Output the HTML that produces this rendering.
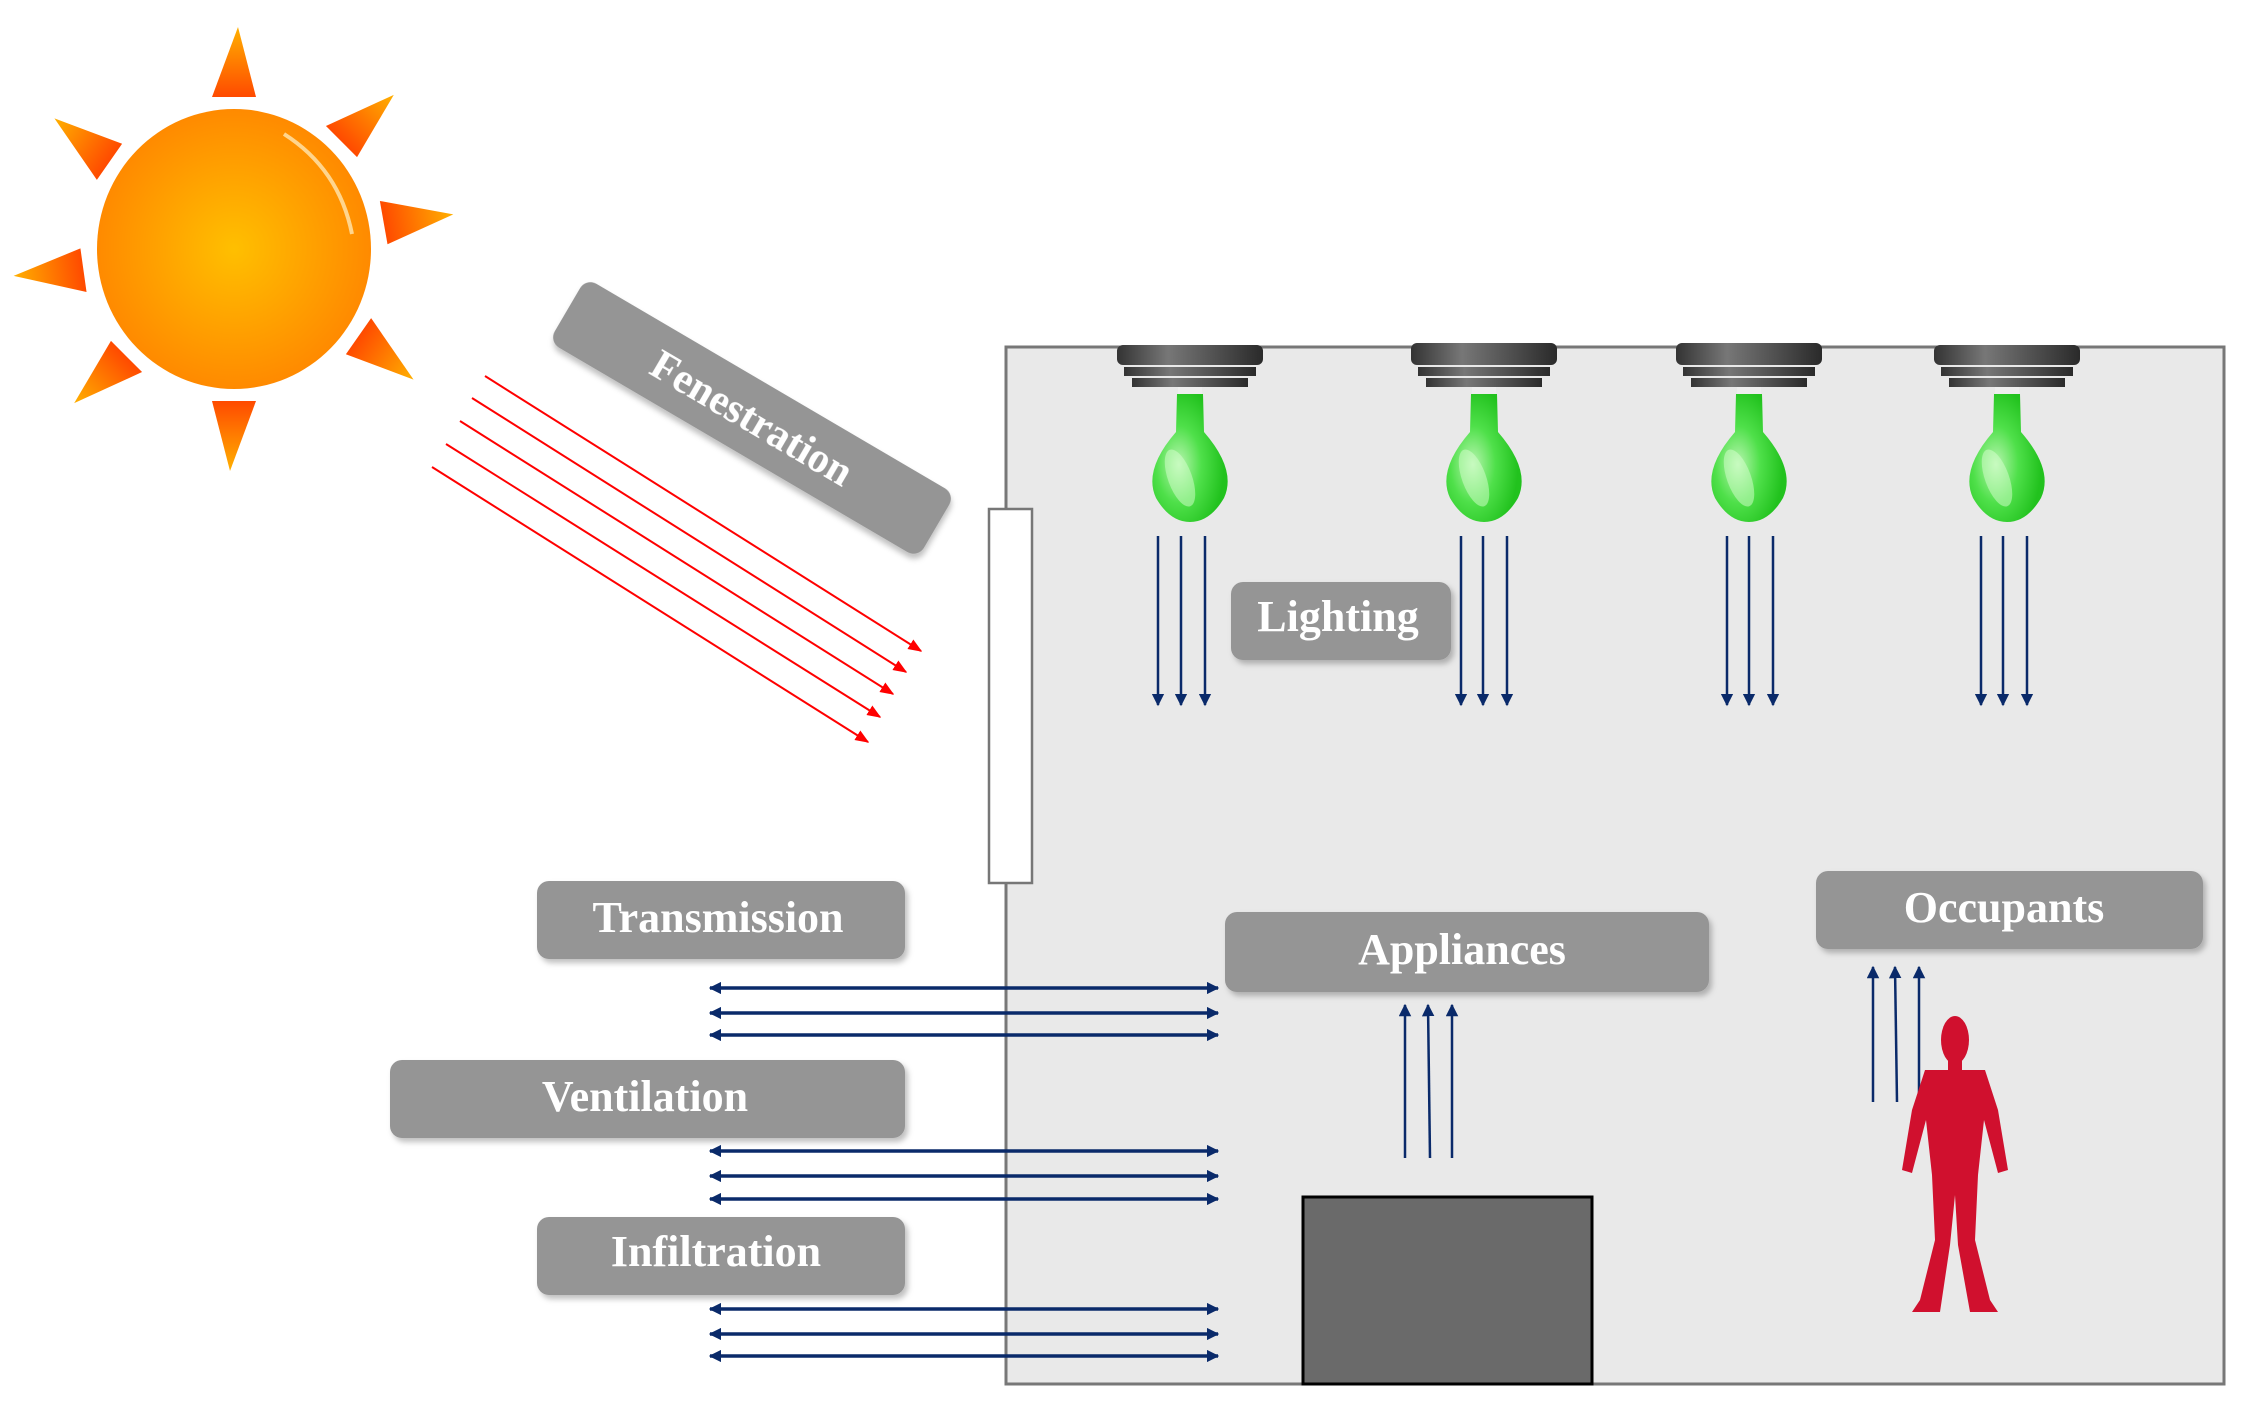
<!DOCTYPE html>
<html><head><meta charset="utf-8"><style>
html,body{margin:0;padding:0;background:#fff;}
svg{display:block;}
text{font-family:"Liberation Serif",serif;fill:#fff;}
</style></head><body>
<svg width="2242" height="1417" viewBox="0 0 2242 1417" xmlns="http://www.w3.org/2000/svg">
<defs>
<radialGradient id="sun" cx="0.5" cy="0.5" r="0.5">
<stop offset="0" stop-color="#ffbf00"/><stop offset="1" stop-color="#ff8a00"/></radialGradient>
<linearGradient id="ray" x1="0" y1="0" x2="0" y2="1">
<stop offset="0" stop-color="#ffb000"/><stop offset="1" stop-color="#ff4a00"/></linearGradient>
<linearGradient id="fix" x1="0" y1="0" x2="1" y2="0">
<stop offset="0" stop-color="#333"/><stop offset="0.35" stop-color="#777"/><stop offset="1" stop-color="#2a2a2a"/></linearGradient>
<radialGradient id="bulb" cx="0.35" cy="0.55" r="0.6">
<stop offset="0" stop-color="#b8f5b0"/><stop offset="0.5" stop-color="#4fe04a"/><stop offset="1" stop-color="#22c21e"/></radialGradient>
<filter id="sh" x="-10%" y="-10%" width="130%" height="140%"><feDropShadow dx="3" dy="4" stdDeviation="3" flood-color="#000" flood-opacity="0.25"/></filter>
<marker id="ad" viewBox="0 0 10 10" refX="9" refY="5" markerWidth="5" markerHeight="5" orient="auto"><path d="M0,0 L10,5 L0,10 z" fill="#0a2a6a"/></marker>
<marker id="ah" viewBox="0 0 10 10" refX="9" refY="5" markerWidth="3.5" markerHeight="3.5" orient="auto-start-reverse"><path d="M0,0 L10,5 L0,10 z" fill="#0a2a6a"/></marker>
<marker id="ar" viewBox="0 0 10 10" refX="9" refY="5" markerWidth="7" markerHeight="7" orient="auto"><path d="M0,1 L10,5 L0,9 z" fill="#f00"/></marker>
</defs>

<!-- Sun -->
<g transform="translate(234,249)">
<g fill="url(#ray)">
<polygon points="-22,-152 22,-152 4,-222"/>
<polygon points="-22,-152 22,-152 4,-222" transform="rotate(45)"/>
<polygon points="-22,-152 22,-152 4,-222" transform="rotate(80)"/>
<polygon points="-22,-152 22,-152 4,-222" transform="rotate(125)"/>
<polygon points="-22,-152 22,-152 4,-222" transform="rotate(180)"/>
<polygon points="-22,-152 22,-152 4,-222" transform="rotate(225)"/>
<polygon points="-22,-152 22,-152 4,-222" transform="rotate(262)"/>
<polygon points="-22,-152 22,-152 4,-222" transform="rotate(305)"/>
</g>
<circle r="148" fill="#fff"/>
<ellipse rx="137" ry="140" fill="url(#sun)"/>
<path d="M50,-115 Q105,-80 118,-15" stroke="#ffe6b0" stroke-width="4" fill="none" opacity="0.8"/>
</g>

<!-- Fenestration -->
<g transform="translate(752,418) rotate(30.4)" filter="url(#sh)">
<rect x="-214" y="-37" width="428" height="74" rx="12" fill="#959595"/>
<text x="0" y="14" font-size="42" text-anchor="middle" font-weight="bold">Fenestration</text>
</g>

<!-- Red rays -->
<g stroke="#f00" stroke-width="2" marker-end="url(#ar)">
<line x1="485" y1="376" x2="921" y2="651"/>
<line x1="472" y1="398" x2="906" y2="672"/>
<line x1="460" y1="421" x2="893" y2="694"/>
<line x1="446" y1="444" x2="880" y2="717"/>
<line x1="432" y1="467" x2="868" y2="742"/>
</g>

<!-- Room -->
<rect x="1006" y="347" width="1218" height="1037" fill="#e9e9e9" stroke="#777" stroke-width="3"/>
<rect x="989" y="509" width="43" height="374" fill="#fff" stroke="#777" stroke-width="2.5"/>

<!-- Lamps -->
<g id="lamp">
</g>
<g>
<g transform="translate(1190,0)">
<rect x="-73" y="345" width="146" height="20" rx="6" fill="url(#fix)"/><rect x="-66" y="367" width="132" height="9" fill="url(#fix)"/><rect x="-58" y="378" width="116" height="9" fill="url(#fix)"/>
<rect x="-12" y="387" width="24" height="7" fill="#eee"/>
<path d="M-13,394 L13,394 L14,432 Q47,470 34,498 Q20,522 0,522 Q-20,522 -34,498 Q-47,470 -14,432 Z" fill="url(#bulb)"/>
<ellipse cx="-10" cy="478" rx="12" ry="30" fill="#d8ffd0" opacity="0.5" transform="rotate(-20 -10 478)"/>
</g>
<g transform="translate(1484,0)">
<rect x="-73" y="343" width="146" height="22" rx="6" fill="url(#fix)"/><rect x="-66" y="367" width="132" height="9" fill="url(#fix)"/><rect x="-58" y="378" width="116" height="9" fill="url(#fix)"/>
<rect x="-12" y="387" width="24" height="7" fill="#eee"/>
<path d="M-13,394 L13,394 L14,432 Q47,470 34,498 Q20,522 0,522 Q-20,522 -34,498 Q-47,470 -14,432 Z" fill="url(#bulb)"/>
<ellipse cx="-10" cy="478" rx="12" ry="30" fill="#d8ffd0" opacity="0.5" transform="rotate(-20 -10 478)"/>
</g>
<g transform="translate(1749,0)">
<rect x="-73" y="343" width="146" height="22" rx="6" fill="url(#fix)"/><rect x="-66" y="367" width="132" height="9" fill="url(#fix)"/><rect x="-58" y="378" width="116" height="9" fill="url(#fix)"/>
<rect x="-12" y="387" width="24" height="7" fill="#eee"/>
<path d="M-13,394 L13,394 L14,432 Q47,470 34,498 Q20,522 0,522 Q-20,522 -34,498 Q-47,470 -14,432 Z" fill="url(#bulb)"/>
<ellipse cx="-10" cy="478" rx="12" ry="30" fill="#d8ffd0" opacity="0.5" transform="rotate(-20 -10 478)"/>
</g>
<g transform="translate(2007,0)">
<rect x="-73" y="345" width="146" height="20" rx="6" fill="url(#fix)"/><rect x="-66" y="367" width="132" height="9" fill="url(#fix)"/><rect x="-58" y="378" width="116" height="9" fill="url(#fix)"/>
<rect x="-12" y="387" width="24" height="7" fill="#eee"/>
<path d="M-13,394 L13,394 L14,432 Q47,470 34,498 Q20,522 0,522 Q-20,522 -34,498 Q-47,470 -14,432 Z" fill="url(#bulb)"/>
<ellipse cx="-10" cy="478" rx="12" ry="30" fill="#d8ffd0" opacity="0.5" transform="rotate(-20 -10 478)"/>
</g>
</g>

<!-- Down arrows -->
<g stroke="#0a2a6a" stroke-width="2.5" marker-end="url(#ad)">
<line x1="1158" y1="536" x2="1158" y2="705"/><line x1="1181" y1="536" x2="1181" y2="705"/><line x1="1205" y1="536" x2="1205" y2="705"/>
<line x1="1461" y1="536" x2="1461" y2="705"/><line x1="1483" y1="536" x2="1483" y2="705"/><line x1="1507" y1="536" x2="1507" y2="705"/>
<line x1="1727" y1="536" x2="1727" y2="705"/><line x1="1749" y1="536" x2="1749" y2="705"/><line x1="1773" y1="536" x2="1773" y2="705"/>
<line x1="1981" y1="536" x2="1981" y2="705"/><line x1="2003" y1="536" x2="2003" y2="705"/><line x1="2027" y1="536" x2="2027" y2="705"/>
</g>

<!-- Labels -->
<g filter="url(#sh)" fill="#959595">
<rect x="1231" y="582" width="220" height="78" rx="12"/>
<rect x="537" y="881" width="368" height="78" rx="12"/>
<rect x="1225" y="912" width="484" height="80" rx="12"/>
<rect x="1816" y="871" width="387" height="78" rx="12"/>
<rect x="390" y="1060" width="515" height="78" rx="12"/>
<rect x="537" y="1217" width="368" height="78" rx="12"/>
</g>
<g font-size="44" font-weight="bold" text-anchor="middle">
<text x="1338" y="631">Lighting</text>
<text x="718" y="932">Transmission</text>
<text x="1462" y="964">Appliances</text>
<text x="2004" y="922">Occupants</text>
<text x="645" y="1111">Ventilation</text>
<text x="716" y="1266">Infiltration</text>
</g>

<!-- Horizontal double arrows -->
<g stroke="#0a2a6a" stroke-width="3.5" marker-start="url(#ah)" marker-end="url(#ah)">
<line x1="710" y1="988" x2="1218" y2="988"/><line x1="710" y1="1013" x2="1218" y2="1013"/><line x1="710" y1="1035" x2="1218" y2="1035"/>
<line x1="710" y1="1151" x2="1218" y2="1151"/><line x1="710" y1="1176" x2="1218" y2="1176"/><line x1="710" y1="1199" x2="1218" y2="1199"/>
<line x1="710" y1="1309" x2="1218" y2="1309"/><line x1="710" y1="1334" x2="1218" y2="1334"/><line x1="710" y1="1356" x2="1218" y2="1356"/>
</g>

<!-- Up arrows -->
<g stroke="#0a2a6a" stroke-width="2.5" marker-end="url(#ad)">
<line x1="1405" y1="1158" x2="1405" y2="1005"/><line x1="1430" y1="1158" x2="1428" y2="1005"/><line x1="1452" y1="1158" x2="1452" y2="1005"/>
<line x1="1873" y1="1102" x2="1873" y2="967"/><line x1="1897" y1="1102" x2="1895" y2="967"/><line x1="1919" y1="1102" x2="1919" y2="967"/>
</g>

<!-- Appliance block -->
<rect x="1303" y="1197" width="289" height="187" fill="#6a6a6a" stroke="#000" stroke-width="3"/>

<!-- Person -->
<g fill="#d0102e">
<ellipse cx="1955" cy="1040" rx="14" ry="24"/>
<rect x="1948" y="1058" width="14" height="16"/>
<path d="M1925,1070 L1985,1070 L1998,1110 L2008,1170 L1998,1173 L1984,1120 L1978,1175 L1975,1240 L1990,1300 L1998,1312 L1970,1312 L1958,1245 L1955,1195 L1950,1245 L1940,1312 L1912,1312 L1920,1300 L1935,1240 L1932,1175 L1926,1120 L1912,1173 L1902,1170 L1912,1110 Z"/>
</g>
</svg>
</body></html>
